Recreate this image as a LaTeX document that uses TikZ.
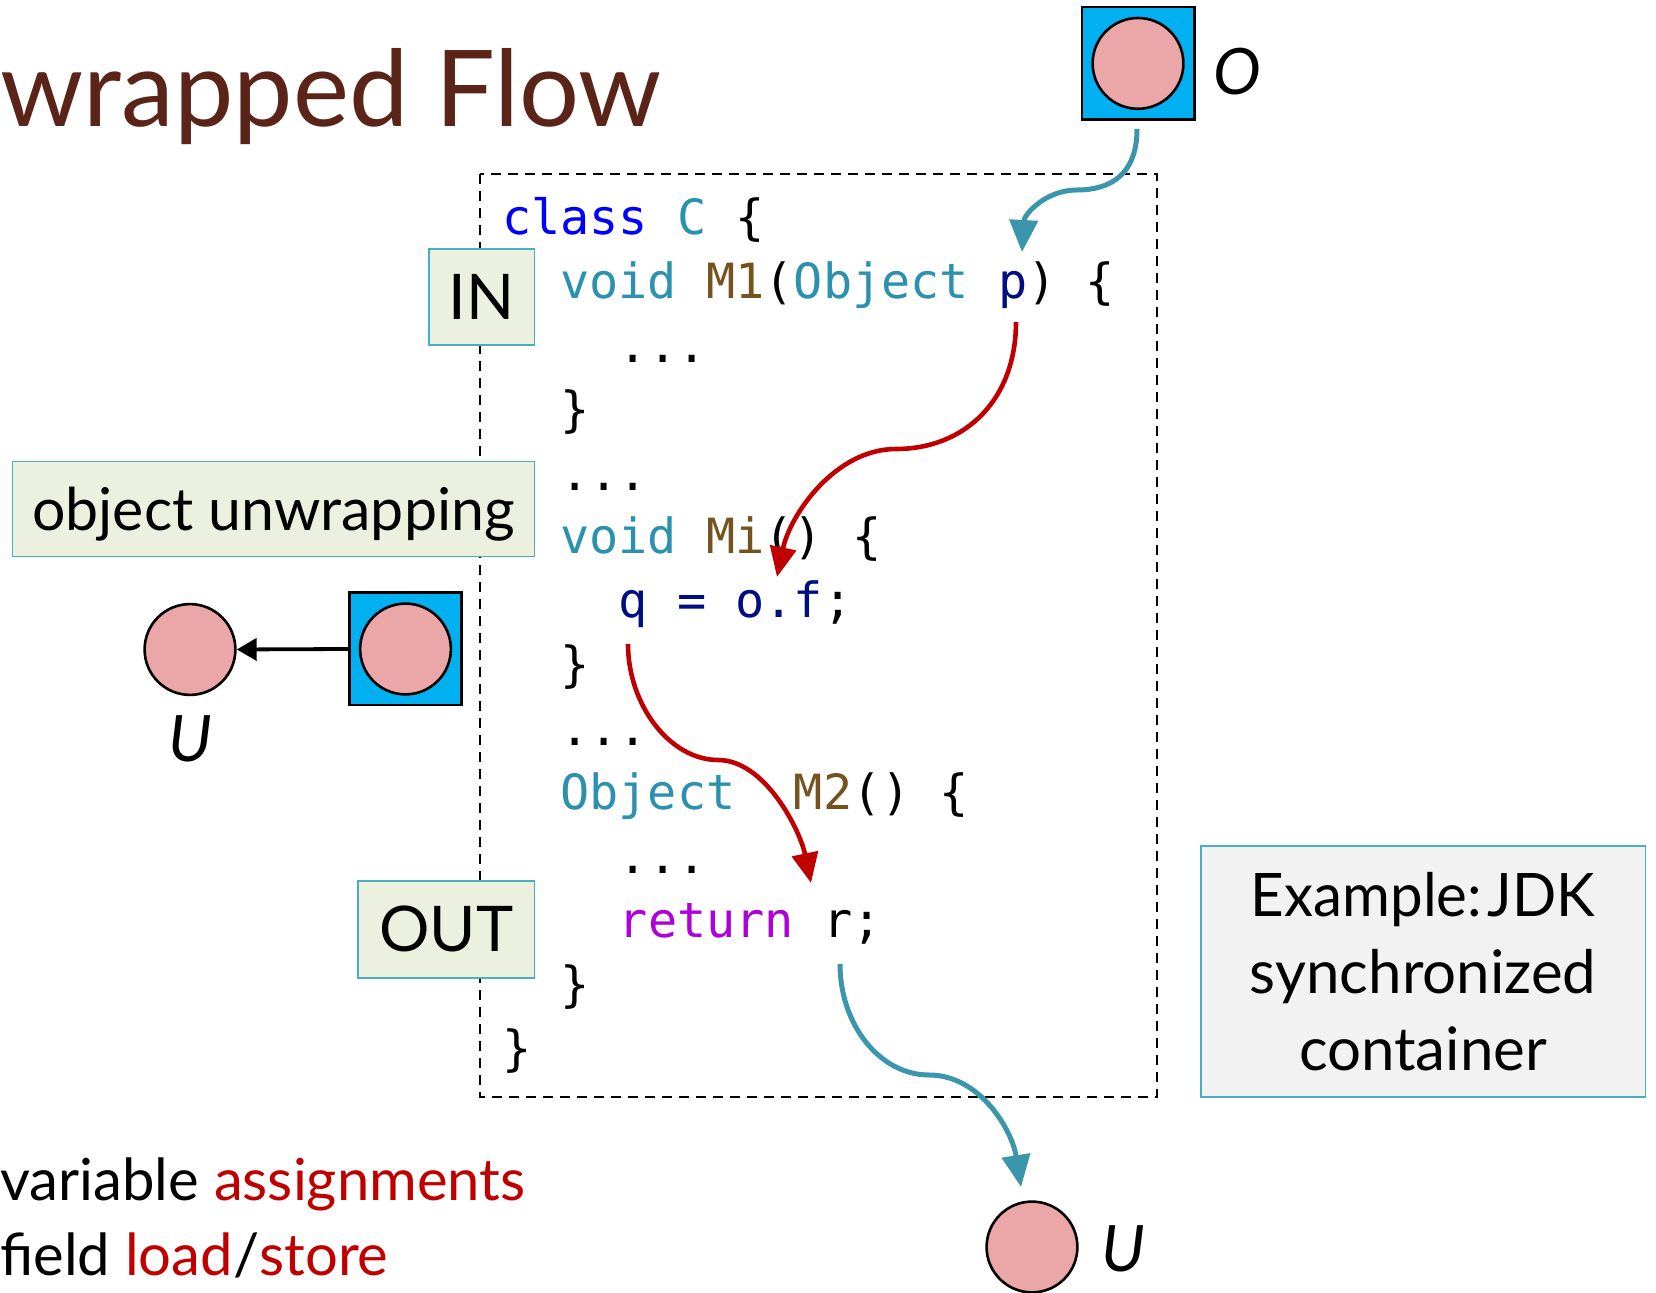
\documentclass[tikz,border=0pt]{standalone}
\usepackage{fontspec}
\setmainfont{Lato}
\newfontfamily\codefont{DejaVu Sans Mono}
\usetikzlibrary{arrows.meta}
\definecolor{titlebrown}{HTML}{5B2418}
\definecolor{flowteal}{HTML}{3C96AB}
\definecolor{flowred}{HTML}{C00000}
\definecolor{boxline}{HTML}{4BACC6}
\definecolor{greenfill}{HTML}{EBF1DE}
\definecolor{greyfill}{HTML}{F2F2F2}
\definecolor{objpink}{HTML}{EBA7A7}
\definecolor{wrapblue}{HTML}{00B0F0}
\definecolor{kwblue}{HTML}{0000FF}
\definecolor{typeteal}{HTML}{2B91AF}
\definecolor{methbrown}{HTML}{74531F}
\definecolor{varnavy}{HTML}{000E80}
\definecolor{retpurple}{HTML}{AF00DB}
\begin{document}
\begin{tikzpicture}[x=0.5pt,y=-0.5pt,
  codeline/.style={anchor=base west,inner sep=0pt,font=\codefont\fontsize{24.25pt}{29pt}\selectfont},
  objcircle/.style={circle,draw=black,line width=1.3pt,fill=objpink,minimum size=45.4pt,inner sep=0pt},
  wrapbox/.style={rectangle,draw=black,line width=1.3pt,fill=wrapblue,minimum size=56.2pt,inner sep=0pt},
  labelbox/.style={rectangle,draw=boxline,line width=0.8pt,fill=greenfill,inner sep=0pt,font=\fontsize{31.5pt}{36pt}\selectfont},
  italiclabel/.style={inner sep=0pt,font=\fontsize{32pt}{36pt}\selectfont\itshape},
  tealflow/.style={draw=flowteal,line width=2.5pt,-{Triangle[length=16pt,width=14pt]}},
  redflow/.style={draw=flowred,line width=2.3pt,-{Triangle[length=15pt,width=13pt]}},
  plaintext/.style={anchor=base west,inner sep=0pt,font=\fontsize{29pt}{36pt}\selectfont}
]
\useasboundingbox (0,0) rectangle (1656,1293);

% title
\node[anchor=base west,inner sep=0pt,text=titlebrown,font=\fontsize{53pt}{60pt}\selectfont] (title) at (0,126.7) {wrapped Flow};

% dashed class box
\draw[line width=1.1pt,dash pattern=on 5pt off 3.5pt] (480,174) rectangle (1157,1097);

% code
\node[codeline] (c1) at (501.6,234.5) {{\color{kwblue}class} {\color{typeteal}C} \{};
\node[codeline] (c2) at (560,298.4) {{\color{typeteal}void} {\color{methbrown}M1}({\color{typeteal}Object} {\color{varnavy}p}) \{};
\node[codeline] (c3) at (618.4,362.3) {...};
\node[codeline] (c4) at (560,426.2) {\}};
\node[codeline] (c5) at (560,490.1) {...};
\node[codeline] (c6) at (560,554) {{\color{typeteal}void} {\color{methbrown}Mi}() \{};
\node[codeline] (c7) at (618.4,617.9) {{\color{varnavy}q = o.f};};
\node[codeline] (c8) at (560,681.8) {\}};
\node[codeline] (c9) at (560,745.7) {...};
\node[codeline] (c10) at (560,809.6) {{\color{typeteal}Object}\ \ {\color{methbrown}M2}() \{};
\node[codeline] (c11) at (618.4,873.5) {...};
\node[codeline] (c12) at (618.4,937.4) {{\color{retpurple}return} r;};
\node[codeline] (c13) at (560,1001.3) {\}};
\node[codeline] (c14) at (501.6,1065.2) {\}};

% label boxes
\node[labelbox,minimum width=52.8pt,minimum height=48pt] (inbox) at (481.6,297.3) {IN};
\node[labelbox,minimum width=260.9pt,minimum height=47.5pt,font=\fontsize{29.5pt}{36pt}\selectfont,text height=24pt,text depth=2pt] (unwrap) at (273.5,509) {object unwrapping};
\node[labelbox,minimum width=88.2pt,minimum height=48.6pt] (outbox) at (446.2,929.4) {OUT};
\node[rectangle,draw=boxline,line width=0.8pt,fill=greyfill,minimum width=222.3pt,minimum height=125.6pt,inner sep=0pt,align=center,font=\fontsize{30pt}{38.5pt}\selectfont] (example) at (1423.1,971.6) {\scalebox{0.97}[1]{Example:\hspace{0.1em}JDK}\\synchronized\\container};

% wrapped object O
\node[wrapbox] (obox) at (1138,63.4) {};
\node[objcircle] (ocirc) at (1138,63.4) {};
\node[italiclabel] (olabel) at (1237,72) {O};

% unwrapping example
\node[wrapbox] (wbox) at (405.5,649) {};
\node[objcircle] (wcirc) at (405.5,649) {};
\node[objcircle] (ucirc) at (190,649.5) {};
\node[italiclabel] (ulabel) at (190,739) {U};
\draw[line width=1.9pt,-{Triangle[length=10pt,width=11pt]}] (wbox.west) -- (ucirc.east);

% bottom U
\node[objcircle] (bcirc) at (1032,1247) {};
\node[italiclabel] (blabel) at (1123,1249) {U};

% flow coordinates
\coordinate (t1s) at (1137,129);
\coordinate (t1m) at (1077,190);
\coordinate (t1e) at (1022,252);
\coordinate (r1s) at (1016,322);
\coordinate (r1m) at (896,449);
\coordinate (r1e) at (777,577);
\coordinate (r2s) at (628,644);
\coordinate (r2m) at (718,760);
\coordinate (r2e) at (811,883);
\coordinate (t2s) at (840,964);
\coordinate (t2m) at (929,1075);
\coordinate (t2e) at (1021,1187);

\draw[tealflow] (t1s) .. controls (1137,175) and (1110,190) .. (t1m) .. controls (1045,190) and (1024,215) .. (t1e);
\draw[redflow] (r1s) .. controls (1016,400) and (965,449) .. (r1m) .. controls (835,449) and (790,515) .. (r1e);
\draw[redflow] (r2s) .. controls (628,705) and (670,760) .. (r2m) .. controls (765,760) and (800,830) .. (r2e);
\draw[tealflow] (t2s) .. controls (840,1025) and (880,1075) .. (t2m) .. controls (980,1075) and (1012,1130) .. (t2e);

% legend text
\node[plaintext] (leg1) at (0,1200.8) {variable {\color{flowred}assignments}};
\node[plaintext] (leg2) at (0,1275.8) {field {\color{flowred}load}/{\color{flowred}store}};
\end{tikzpicture}
\end{document}
